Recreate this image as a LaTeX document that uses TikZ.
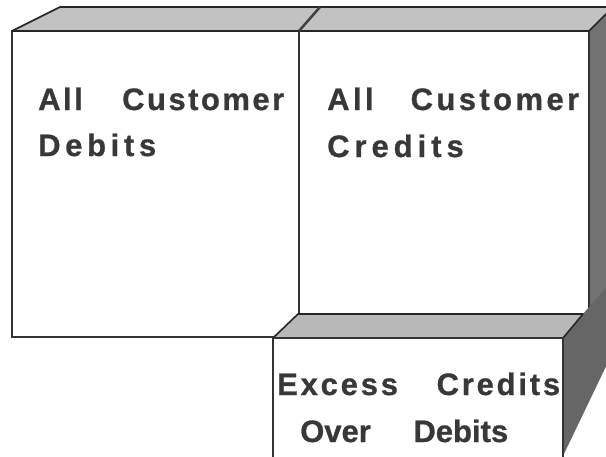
\documentclass[tikz,border=0pt]{standalone}
\usepackage{fontspec}
\setmainfont{Liberation Sans}
% letter spaced line, stretched to a given width
\newcommand{\ls}[1]{\addfontfeature{LetterSpace=#1}}
\newcommand{\spread}[3]{{\ls{#2}\makebox[#1pt][s]{#3}}}
\begin{document}
\begin{tikzpicture}[x=1pt, y=-1pt,
    front/.style={fill=white, draw=black!80, line width=1.1pt},
    top/.style={fill=black!24, draw=black!85, line width=1.6pt, line join=round},
    side/.style={fill=black!55, draw=none},
    lbl/.style={anchor=base west, inner sep=0pt, text=black!78,
        font=\fontsize{31}{34}\selectfont\bfseries\addfontfeature{FakeBold=0.8}}]
    \useasboundingbox (0,0) rectangle (606,456);
    \clip (0,0) rectangle (606,456);
    % big box: debits | credits
    \fill[side] (589,31)--(613,7)--(613,322)--(589,337)--cycle;
    \draw[front] (12,31) rectangle (589,337);
    \draw[black!80, line width=1.1pt] (299,31)--(299,314);
    \draw[top] (12,31)--(60,7)--(613,7)--(589,31)--cycle;
    \draw[black!75, line width=2.5pt] (299,31)--(320,7);
    % small box in front: the excess
    \fill[side, fill=black!60] (563,338)--(583,314)--(610,283)--(610,358)--(563,456)--cycle;
    \draw[top, fill=black!28] (273,338)--(298,314)--(583,314)--(563,338)--cycle;
    \draw[front] (273,338) rectangle (563,470);
    % texts
    \node[lbl] (debA) at (38,110) {\spread{246}{8}{All Customer}};
    \node[lbl] (debB) at (38,156) {\ls{15}Debits};
    \node[lbl] (credA) at (327,110) {\spread{252}{11}{All Customer}};
    \node[lbl] (credB) at (327,157) {\ls{16}Credits};
    \node[lbl] (excA) at (277,395) {\spread{283}{9}{Excess Credits}};
    \node[lbl] (excB) at (300,442) {\spread{208}{0}{Over Debits}};
\end{tikzpicture}
\end{document}
